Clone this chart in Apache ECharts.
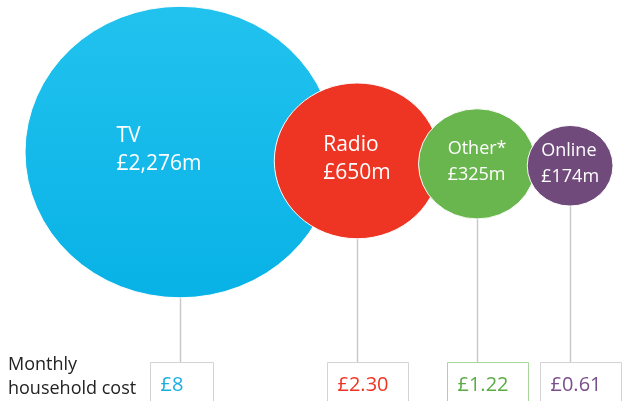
<!DOCTYPE html>
<html>
<head>
<meta charset="utf-8">
<title>Licence fee spend by medium</title>
<style>
  html, body { margin: 0; padding: 0; background: #fff; }
  #main { width: 626px; height: 401px; }
</style>
</head>
<body>
<div id="main"></div>
<script src="https://cdn.jsdelivr.net/npm/echarts@6/dist/echarts.min.js"></script>
<script type="text/javascript">
// data
var categories = ['TV', 'Radio', 'Other*', 'Online'];
var spend = [2276, 650, 325, 174];          // £m
var monthlyCost = [8, 2.30, 1.22, 0.61];    // £ per household per month
var rowTitle = ['Monthly', 'household cost'];

// colours
var bubbleFills = ['#14bdec', '#ee3524', '#6ab64e', '#714a7c'];
var costColours = ['#1aaee0', '#ee3524', '#5bab47', '#7b4e8c'];
var boxStrokes = ['#d3d3d3', '#d3d3d3', '#a9d69d', '#d3d3d3'];

var FONT = '"Open Sans", sans-serif';
var K = 3.25;        // bubble radius per sqrt(£m)
var ASPECT = 0.94;   // the source picture is a bit squashed vertically
var SPAN = [25, 613];
var BOX_TOP = 362;

function money(v) {
    return '£' + String(v).replace(/\B(?=(\d{3})+(?!\d))/g, ',') + 'm';
}
function cost(v) {
    return '£' + (Number.isInteger(v) ? v : v.toFixed(2));
}

var measureCtx = document.createElement('canvas').getContext('2d');
function textWidth(str, font) {
    measureCtx.font = font;
    return measureCtx.measureText(str).width;
}

// pack the bubbles left to right across the span, bigger pairs overlap more
var radii = spend.map(function (v) { return Math.sqrt(v) * K; });
var total = radii.reduce(function (a, r) { return a + 2 * r; }, 0);
var squeeze = total - (SPAN[1] - SPAN[0]);
var weights = [];
for (var i = 0; i < radii.length - 1; i++) {
    weights.push(Math.pow(Math.min(radii[i], radii[i + 1]), 3));
}
var wSum = weights.reduce(function (a, b) { return a + b; }, 0);
var centres = [SPAN[0] + radii[0]];
for (var j = 1; j < radii.length; j++) {
    var overlap = squeeze * weights[j - 1] / wSum;
    centres.push(centres[j - 1] + radii[j - 1] + radii[j] - overlap);
}

var seriesData = categories.map(function (c, i) {
    var ry = radii[i] * ASPECT;
    return [centres[i], 171 - 0.13 * ry, radii[i], spend[i], monthlyCost[i], i];
});

function renderItem(params, api) {
    var i = api.value(5);
    var p = api.coord([api.value(0), api.value(1)]);
    var rx = api.size([api.value(2), 0])[0];
    var ry = rx * ASPECT;
    var boxTop = api.coord([0, BOX_TOP])[1];

    var big = rx > 70;
    var labelFont = (big ? 21 : 18) + 'px ' + FONT;
    var lh = big ? 28 : 26;
    var line1 = categories[i];
    var line2 = money(api.value(3));
    var blockW = Math.max(textWidth(line1, labelFont), textWidth(line2, labelFont));
    var tx = p[0] - Math.max(blockW / 2, rx * 0.41);
    var midY = p[1] - 2;

    var costText = cost(api.value(4));
    var costFont = '20px ' + FONT;
    var boxW = Math.max(63, Math.round(textWidth(costText, costFont) + 30));
    var boxX = Math.round(p[0] - 30) + 0.5;

    return {
        type: 'group',
        children: [
            {
                type: 'line',
                shape: { x1: Math.round(p[0]) + 0.5, y1: p[1] + ry, x2: Math.round(p[0]) + 0.5, y2: boxTop },
                style: { stroke: '#c9c9c9', lineWidth: 1.5 }
            },
            {
                type: 'rect',
                shape: { x: boxX, y: boxTop + 0.5, width: boxW, height: 60 },
                style: { fill: '#fff', stroke: boxStrokes[i], lineWidth: 1 }
            },
            {
                type: 'text',
                style: {
                    text: costText, x: boxX + 10, y: boxTop + 23,
                    fill: costColours[i], font: costFont, align: 'left', verticalAlign: 'middle'
                }
            },
            {
                type: 'circle',
                x: p[0], y: p[1], scaleY: ASPECT,
                shape: { cx: 0, cy: 0, r: rx },
                style: {
                    fill: i === 0 ? new echarts.graphic.LinearGradient(0, 0, 0, 1, [
                        { offset: 0, color: '#22c2ee' },
                        { offset: 1, color: '#08b2e6' }
                    ]) : bubbleFills[i],
                    stroke: '#ffffff', lineWidth: 1
                }
            },
            {
                type: 'text',
                style: {
                    text: line1, x: tx, y: midY - lh / 2,
                    fill: '#fff', font: labelFont, align: 'left', verticalAlign: 'middle'
                }
            },
            {
                type: 'text',
                style: {
                    text: line2, x: tx, y: midY + lh / 2,
                    fill: '#fff', font: labelFont, align: 'left', verticalAlign: 'middle'
                }
            }
        ]
    };
}

var myChart = echarts.init(document.getElementById('main'));

var option = {
    animation: false,
    grid: { left: 0, right: 0, top: 0, bottom: 0 },
    xAxis: { type: 'value', min: 0, max: 626, show: false },
    yAxis: { type: 'value', min: 0, max: 401, inverse: true, show: false },
    graphic: [
        {
            type: 'text',
            left: 8,
            top: 353,
            style: {
                text: rowTitle.join('\n'),
                font: '18px ' + FONT,
                lineHeight: 24,
                fill: '#222'
            }
        }
    ],
    series: [
        {
            type: 'custom',
            renderItem: renderItem,
            encode: { x: 0, y: 1 },
            clip: false,
            data: seriesData
        }
    ]
};

myChart.setOption(option);
</script>
</body>
</html>
